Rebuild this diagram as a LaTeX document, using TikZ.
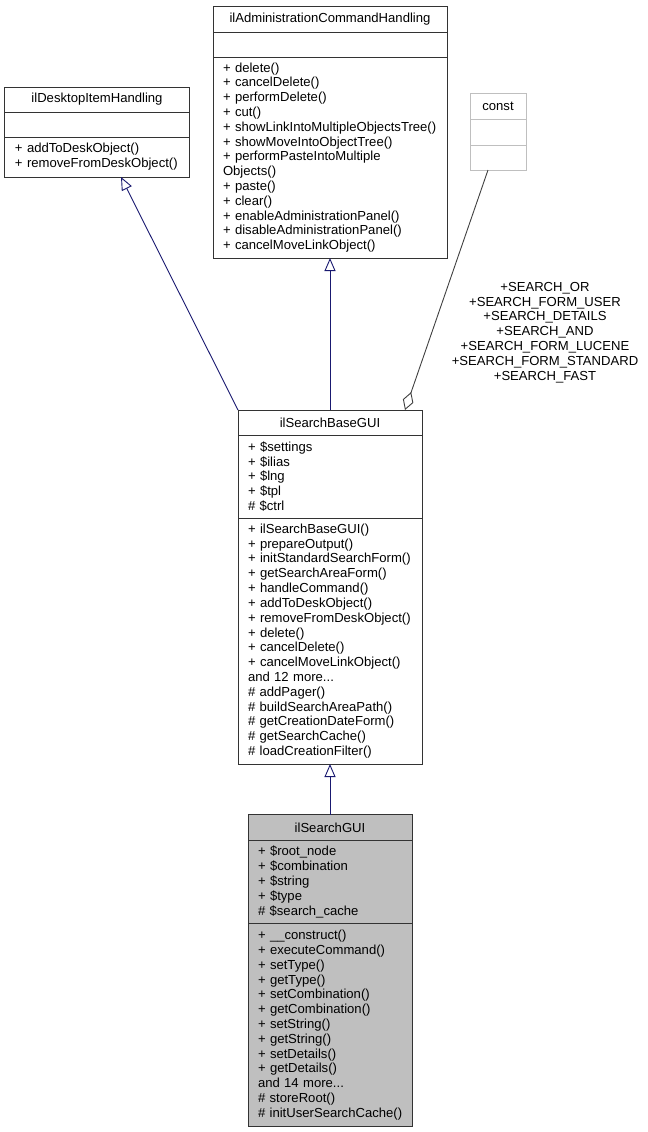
\documentclass[tikz,border=0pt]{standalone}
\usepackage{fontspec}
\setmainfont{Liberation Sans}
\usetikzlibrary{positioning, arrows.meta}
\definecolor{edgeblue}{RGB}{25, 25, 112}
\definecolor{edgegrey}{RGB}{64, 64, 64}
\definecolor{cellgrey}{RGB}{191, 191, 191}
\newcommand{\umlfont}{\fontsize{13.1bp}{14.8bp}\selectfont\hyphenpenalty=10000\exhyphenpenalty=10000}

\tikzset{
  cell/.style={draw=black!80, fill=white, line width=1bp, inner sep=0pt, outer sep=0pt,
    minimum width=#1, font=\umlfont},
  members/.style={align=left, text width=#1},
  inherit/.style={draw=edgeblue, line width=0.9bp, -{Triangle[length=13bp, width=11bp, fill=white]}},
  aggregate/.style={draw=edgegrey, line width=0.9bp, -{Diamond[length=19bp, width=11bp, fill=white]}}
}

\begin{document}
\begin{tikzpicture}[x=1bp, y=-1bp]
  \useasboundingbox (0, 0) rectangle (648, 1132);

  % ilDesktopItemHandling
  \node[cell=184bp, minimum height=25bp] (dihT) at (97, 99.5) {ilDesktopItemHandling};
  \node[cell=184bp, minimum height=25bp, below=0pt of dihT] (dihA) {};
  \node[cell=184bp, minimum height=40bp, below=0pt of dihA, members=164bp] (dihM)
    {+ addToDeskObject()\\+ removeFromDeskObject()};

  % ilAdministrationCommandHandling
  \node[cell=234bp, minimum height=26bp] (aohT) at (330, 19) {ilAdministrationCommandHandling};
  \node[cell=234bp, minimum height=25bp, below=0pt of aohT] (aohA) {};
  \node[cell=234bp, minimum height=201bp, below=0pt of aohA, members=214bp] (aohM)
    {+ delete()\\+ cancelDelete()\\+ performDelete()\\+ cut()\\+ showLinkIntoMultipleObjectsTree()\\
     + showMoveIntoObjectTree()\\+ performPasteIntoMultiple\\Objects()\\+ paste()\\+ clear()\\
     + enableAdministrationPanel()\\+ disableAdministrationPanel()\\+ cancelMoveLinkObject()};

  % const
  \node[cell=56bp, draw=cellgrey, minimum height=26bp] (cstT) at (498, 106) {const};
  \node[cell=56bp, draw=cellgrey, minimum height=26bp, below=0pt of cstT] (cstA) {};
  \node[cell=56bp, draw=cellgrey, minimum height=25bp, below=0pt of cstA] (cstM) {};

  % ilSearchBaseGUI
  \node[cell=184bp, minimum height=25bp] (sbgT) at (330, 422.5) {ilSearchBaseGUI};
  \node[cell=184bp, minimum height=83bp, below=0pt of sbgT, members=164bp] (sbgA)
    {+ \$settings\\+ \$ilias\\+ \$lng\\+ \$tpl\\\# \$ctrl};
  \node[cell=184bp, minimum height=246bp, below=0pt of sbgA, members=164bp] (sbgM)
    {+ ilSearchBaseGUI()\\+ prepareOutput()\\+ initStandardSearchForm()\\+ getSearchAreaForm()\\
     + handleCommand()\\+ addToDeskObject()\\+ removeFromDeskObject()\\+ delete()\\
     + cancelDelete()\\+ cancelMoveLinkObject()\\and 12 more...\\\# addPager()\\
     \# buildSearchAreaPath()\\\# getCreationDateForm()\\\# getSearchCache()\\\# loadCreationFilter()};

  % ilSearchGUI
  \node[cell=164bp, fill=cellgrey, minimum height=26bp] (sgT) at (330, 827.5) {ilSearchGUI};
  \node[cell=164bp, fill=cellgrey, minimum height=83bp, below=0pt of sgT, members=144bp] (sgA)
    {+ \$root\_node\\+ \$combination\\+ \$string\\+ \$type\\\# \$search\_cache};
  \node[cell=164bp, fill=cellgrey, minimum height=203bp, below=0pt of sgA, members=144bp] (sgM)
    {+ \_\_construct()\\+ executeCommand()\\+ setType()\\+ getType()\\+ setCombination()\\
     + getCombination()\\+ setString()\\+ getString()\\+ setDetails()\\+ getDetails()\\
     and 14 more...\\\# storeRoot()\\\#~initUserSearchCache()};

  % relations
  \draw[inherit] (sbgT.north west) -- ([xshift=24bp]dihM.south);
  \draw[inherit] (sbgT.north) -- (aohM.south);
  \draw[aggregate] ([xshift=-10bp]cstM.south) -- ([xshift=-17bp]sbgT.north east);
  \draw[inherit] (sgT.north) -- (sbgM.south);
  \node[align=center, font=\umlfont] (cstL) at (545, 332.5)
    {+SEARCH\_OR\\+SEARCH\_FORM\_USER\\+SEARCH\_DETAILS\\+SEARCH\_AND\\+SEARCH\_FORM\_LUCENE\\
     +SEARCH\_FORM\_STANDARD\\+SEARCH\_FAST};
\end{tikzpicture}
\end{document}
